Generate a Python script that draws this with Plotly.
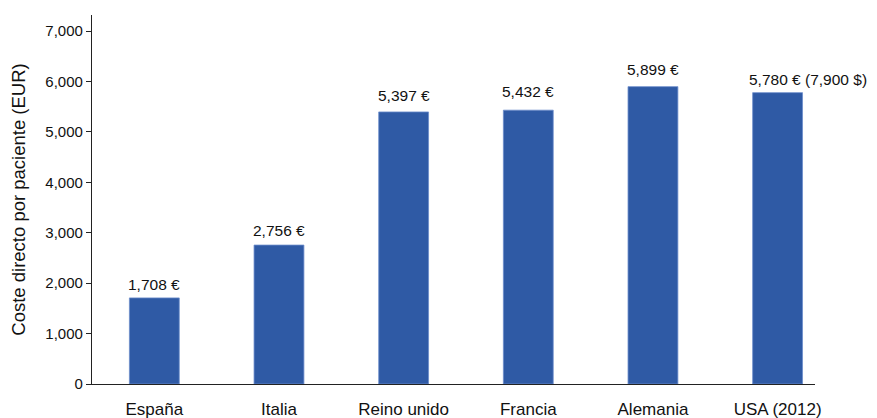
import plotly.graph_objects as go

countries = ["España", "Italia", "Reino unido", "Francia", "Alemania", "USA (2012)"]
costs = [1708, 2756, 5397, 5432, 5899, 5780]
labels = ["1,708 €", "2,756 €", "5,397 €", "5,432 €", "5,899 €", "5,780 € (7,900 $)"]
label_xshift = [0, 0, 0, 0, 0, 30]
label_yshift = [0, 1, 3, 5, 4, 0]

FONT = "Liberation Sans, Arial, Helvetica"

fig = go.Figure()
fig.add_trace(go.Bar(
    x=countries, y=costs, width=0.4,
    marker=dict(color="#2F5AA5", line=dict(color="#6C8DCB", width=0.8)),
    hoverinfo="skip",
))

for c, v, t, xs, ys in zip(countries, costs, labels, label_xshift, label_yshift):
    fig.add_annotation(x=c, y=v, text=t, showarrow=False, yanchor="bottom",
                       xshift=xs, yshift=3 + ys,
                       font=dict(family=FONT, size=15.5, color="#111"))

# page body has an 8px default margin: compensate so the plot lands where the reference has it
fig.update_layout(
    width=869, height=410,
    margin=dict(l=84, r=62, t=7, b=34),
    plot_bgcolor="white", paper_bgcolor="white",
    showlegend=False,
    font=dict(family=FONT, size=15, color="#111"),
    xaxis=dict(range=[-0.5, 5.3], showline=True, linecolor="#222", linewidth=1.3,
               ticks="outside", ticklen=9, tickcolor="rgba(0,0,0,0)",
               showgrid=False, tickfont=dict(size=17), automargin=False),
    yaxis=dict(range=[0, 7320], tickvals=[0, 1000, 2000, 3000, 4000, 5000, 6000, 7000],
               tickformat=",d", showline=True, linecolor="#222", linewidth=1.3,
               ticks="outside", ticklen=5, tickcolor="#222", showgrid=False, zeroline=False,
               tickfont=dict(size=15), automargin=False,
               title=dict(text="Coste directo por paciente (EUR)", font=dict(size=18.5), standoff=16)),
)

fig.write_html("out.html")
